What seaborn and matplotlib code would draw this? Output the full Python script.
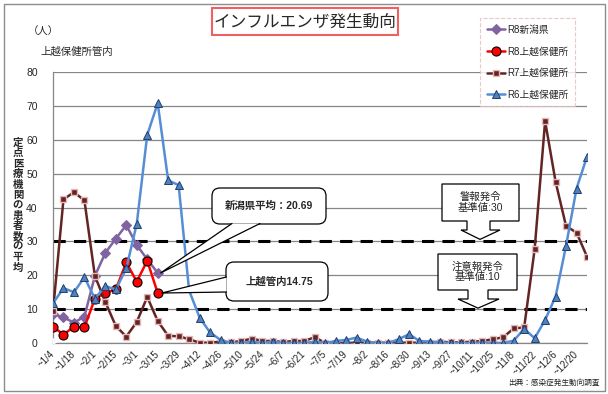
import matplotlib
matplotlib.use("Agg")
import matplotlib.pyplot as plt
import matplotlib.transforms as mtransforms
from matplotlib.patches import FancyBboxPatch, Polygon, Rectangle
from matplotlib.lines import Line2D
import numpy as np
import pandas as pd
import seaborn as sns

# 週（~終了日）
weeks = ["~1/4", "~1/11", "~1/18", "~1/25", "~2/1", "~2/8", "~2/15", "~2/22",
         "~3/1", "~3/8", "~3/15", "~3/22", "~3/29", "~4/5", "~4/12", "~4/19",
         "~4/26", "~5/3", "~5/10", "~5/17", "~5/24", "~5/31", "~6/7", "~6/14",
         "~6/21", "~6/28", "~7/5", "~7/12", "~7/19", "~7/26", "~8/2", "~8/9",
         "~8/16", "~8/23", "~8/30", "~9/6", "~9/13", "~9/20", "~9/27", "~10/4",
         "~10/11", "~10/18", "~10/25", "~11/1", "~11/8", "~11/15", "~11/22", "~11/29",
         "~12/6", "~12/13", "~12/20", "~12/27"]

# 定点当たり患者数
r8_niigata = [8.5, 7.6, 6.0, 7.8, 19.8, 26.6, 30.8, 34.8, 28.9, 24.7, 20.69]
r8_joetsu = [4.8, 2.5, 4.8, 4.6, 13.1, 14.8, 15.8, 23.8, 18.1, 24.3, 14.75]
r7_joetsu = [9.4, 42.4, 44.5, 42.1, 19.8, 12.1, 5.0, 1.9, 6.2, 13.6, 6.5, 2.1,
             2.0, 1.1, 0.1, 0.1, 0.4, 0.2, 0.6, 1.3, 0.6, 0.6, 0.3, 0.6,
             0.6, 1.7, 0.0, 0.0, 0.0, 0.1, 0.1, 0.1, 0.1, 0.1, 0.1, 0.1,
             0.1, 0.4, 0.2, 0.2, 0.4, 0.6, 1.1, 1.7, 4.3, 4.6, 27.7, 65.5,
             47.6, 34.5, 32.6, 25.5]
r6_joetsu = [11.7, 16.2, 15.0, 19.4, 13.1, 16.8, 15.8, 22.0, 35.2, 61.4, 70.8, 48.0,
             46.6, 15.5, 7.5, 3.1, 0.9, 0.0, 0.0, 0.4, 0.0, 0.4, 0.0, 0.0,
             0.0, 0.4, 0.0, 0.6, 0.9, 1.6, 0.4, 0.0, 0.0, 1.1, 2.6, 0.6,
             0.4, 0.2, 0.0, 0.0, 0.0, 0.1, 0.1, 0.0, 0.7, 4.2, 1.4, 6.8,
             13.7, 28.7, 45.6, 55.0]
r8_other = [0.0]

alert_level = 30
warn_level = 10
labels = ["R8新潟県", "R8上越保健所", "R7上越保健所", "R6上越保健所"]

df = pd.DataFrame({"week": weeks, "r7": r7_joetsu, "r6": r6_joetsu})
df["i"] = np.arange(len(df))

W, H = 608, 394
sns.set_style("white")
plt.rcParams["font.family"] = ["Liberation Sans", "Noto Sans CJK JP"]

fig = plt.figure(figsize=(W / 100, H / 100), dpi=100)
ax = fig.add_axes([53 / W, 1 - 343 / H, (587 - 53) / W, (343 - 72) / H])

# 警報・注意報の基準線
ax.axhline(alert_level, color="black", lw=2.2, ls=(0, (4, 2.7)), zorder=2)
ax.axhline(warn_level, color="black", lw=2.2, ls=(0, (4, 2.7)), zorder=2)

handles = []
sns.lineplot(x=np.arange(len(r8_niigata)), y=r8_niigata, ax=ax, color="#8064a2",
             lw=1.8, marker="D", markersize=5, markeredgecolor="#8064a2", zorder=3)
handles.append(ax.lines[-1])
sns.lineplot(x=np.arange(len(r8_joetsu)), y=r8_joetsu, ax=ax, color="#ff0000",
             lw=1.8, marker="o", markersize=6.5, markerfacecolor="#ff0000",
             markeredgecolor="black", markeredgewidth=0.8, zorder=4)
handles.append(ax.lines[-1])
sns.lineplot(data=df, x="i", y="r7", ax=ax, color="#632523", lw=1.8, marker="s",
             markersize=4.5, markerfacecolor="#632523", markeredgecolor="#e6b9b8",
             markeredgewidth=1.0, zorder=5)
handles.append(ax.lines[-1])
sns.lineplot(data=df, x="i", y="r6", ax=ax, color="#558ed5", lw=1.8, marker="^",
             markersize=6, markerfacecolor="#4f81bd", markeredgecolor="#1f3f6f",
             markeredgewidth=0.7, markevery=[k for k in range(len(df)) if k != 13],
             zorder=6)
handles.append(ax.lines[-1])
sns.lineplot(x=np.arange(len(r8_other)), y=r8_other, ax=ax, color="#4bacc6",
             marker=(6, 2, 0), markersize=7, markeredgewidth=0.9, lw=0, zorder=7)

ax.set_xlim(0, len(weeks) - 1)
ax.set_ylim(0, 80)
ax.set_yticks(range(0, 81, 10))
ax.set_xticks(range(len(weeks)))
ax.set_xticklabels([w if k % 2 == 0 else "" for k, w in enumerate(weeks)],
                   rotation=45, ha="right", va="center", rotation_mode="anchor",
                   fontsize=7)
ax.tick_params(axis="x", length=4, width=0.8, color="#868686", pad=3, direction="out")
ax.tick_params(axis="y", length=0, pad=11, labelsize=7.5)
ax.grid(axis="y", color="#868686", lw=0.9)
ax.set_axisbelow(True)
for s in ["top", "right"]:
    ax.spines[s].set_visible(False)
for s in ["left", "bottom"]:
    ax.spines[s].set_color("#868686")
    ax.spines[s].set_linewidth(0.9)
ax.set_xlabel("")
ax.set_ylabel("")

leg = fig.legend(handles, labels, loc="upper left", bbox_to_anchor=(475 / W, 1 - 13 / H),
                 fontsize=7, handlelength=1.9, handletextpad=0.2, labelspacing=1.2,
                 borderpad=0.7, fancybox=False, numpoints=1)
leg.get_frame().set_edgecolor("#e6b9b8")
leg.get_frame().set_linestyle("--")
leg.get_frame().set_linewidth(0.8)

# pixel coords (top-left origin)
px = mtransforms.Affine2D().scale(1, -1).translate(0, H)


def to_px(x, y):
    dx, dy = ax.transData.transform((x, y))
    return dx, H - dy


def add(p):
    p.set_transform(px)
    fig.add_artist(p)


# outer frame
add(Rectangle((3.5, 3.5), 601, 387, fill=False, ec="#8c8c8c", lw=1))

# title
add(Rectangle((212, 8), 186, 27, fc="white", ec="#f06060", lw=1.5))
fig.text(305 / W, 1 - 22 / H, "インフルエンザ発生動向", ha="center", va="center",
         fontsize=12, family=["Noto Sans CJK JP"])

fig.text(28 / W, 1 - 32 / H, "（人）", ha="left", va="center", fontsize=7.5)
fig.text(40 / W, 1 - 52 / H, "上越保健所管内", ha="left", va="center", fontsize=7.5)

# 縦書きの軸ラベル
ylab = "定点医療機関の患者数の平均"
for k, ch in enumerate(ylab):
    fig.text(18 / W, 1 - (143 + k * 10.4) / H, ch, ha="center", va="center",
             fontsize=7.5, fontweight="bold", family=["Noto Sans CJK JP"])

fig.text(600 / W, 1 - 383 / H, "出典：感染症発生動向調査", ha="right", va="center",
         fontsize=5.5)

# callouts
def callout(x0, y0, x1, y1, base, tip, text, tx):
    add(FancyBboxPatch((x0, y0), x1 - x0, y1 - y0,
                       boxstyle="round,pad=0,rounding_size=8",
                       fc="white", ec="black", lw=0.9, zorder=8))
    add(Polygon([base[0], tip, base[1]], closed=True, fc="white", ec="none", zorder=9))
    add(Line2D([base[0][0], tip[0], base[1][0]], [base[0][1], tip[1], base[1][1]],
               color="black", lw=0.9, zorder=10))
    fig.text(tx / W, 1 - (y0 + y1) / 2 / H, text, ha="center", va="center",
             fontsize=7.5, fontweight="bold", zorder=11)


n = len(r8_niigata) - 1
tip1 = to_px(n, r8_niigata[n])
callout(212, 188, 326, 224, [(232, 223.5), (260, 223.5)], (tip1[0] + 3, tip1[1]),
        "新潟県平均：%.2f" % r8_niigata[n], 269)
tip2 = to_px(n, r8_joetsu[n])
callout(226, 262, 328, 301, [(226.5, 277), (226.5, 292)], (tip2[0] + 4, tip2[1]),
        "上越管内%.2f" % r8_joetsu[n], 279)


def arrow_box(x0, y0, x1, y1, n0, n1, h0, h1, neck_y, tip_x, tip_y, text):
    pts = [(x0, y0), (x1, y0), (x1, y1), (n1, y1), (n1, neck_y), (h1, neck_y),
           (tip_x, tip_y), (h0, neck_y), (n0, neck_y), (n0, y1), (x0, y1)]
    add(Polygon(pts, closed=True, fc="white", ec="black", lw=0.9, zorder=8))
    fig.text((x0 + x1) / 2 / W, 1 - (y0 + y1) / 2 / H, text, ha="center",
             va="center", fontsize=7.5, linespacing=1.05, zorder=11)


ty = to_px(0, alert_level)[1]
arrow_box(442, 184, 519, 221, 467, 490, 461, 500, 230, 480, ty - 2,
          "警報発令\n基準値:%d" % alert_level)
ty = to_px(0, warn_level)[1]
arrow_box(438, 254, 517, 290, 468, 488, 458, 499, 299, 478, ty - 1,
          "注意報発令\n基準値:%d" % warn_level)

fig.savefig("out.png", dpi=100)
